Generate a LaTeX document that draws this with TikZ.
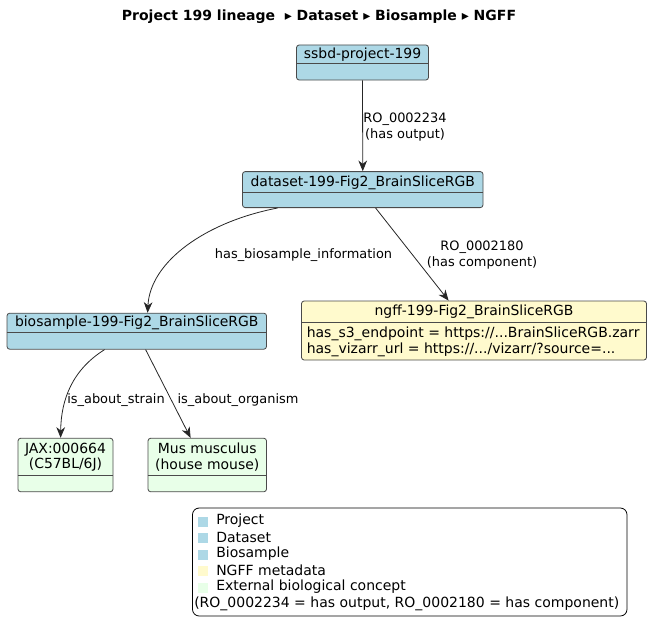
\documentclass[tikz,border=0pt]{standalone}
\usepackage{fontspec}
\setmainfont{DejaVu Sans}
\usetikzlibrary{arrows.meta,calc}
\definecolor{cblue}{HTML}{ADD8E6}
\definecolor{cyel}{HTML}{FFFACD}
\definecolor{cgrn}{HTML}{E8FFE8}
\definecolor{cbord}{HTML}{4A4A4A}
\begin{document}
\begin{tikzpicture}[x=0.75pt,y=-0.75pt,
 cls/.style={draw=cbord, line width=0.6pt, rounded corners=2pt, inner sep=0pt},
 divl/.style={draw=cbord, line width=0.6pt},
 hdr/.style={font=\fontsize{10.45}{11.25}\selectfont, align=center, inner sep=0pt},
 body/.style={font=\fontsize{10.5}{12.75}\selectfont, align=left, inner sep=0pt, anchor=west},
 elab/.style={font=\fontsize{9.7}{11.8}\selectfont, align=center, inner sep=0pt},
 arr/.style={-{Stealth[length=8pt,width=6.5pt,inset=2.5pt]}, line width=0.6pt, draw=black!85},
 sw/.style={minimum size=7.5pt, inner sep=0pt, draw=none}
]
\useasboundingbox (0,0) rectangle (652,635);
\node[font=\bfseries\fontsize{10.5}{12}\selectfont, inner sep=0pt] (title) at (319,17) {Project 199 lineage~ ▸ Dataset ▸ Biosample ▸ NGFF};

% project
\node[cls, fill=cblue, minimum width=132*0.75pt, minimum height=35*0.75pt] (proj) at (362.5,62.5) {};
\draw[divl] ($(proj.north west)+(0,19.3)$) -- ($(proj.north east)+(0,19.3)$);
\node[hdr] (projt) at (362.5,54.6) {ssbd-project-199};

% dataset
\node[cls, fill=cblue, minimum width=240.5*0.75pt, minimum height=36*0.75pt] (ds) at (362.75,189.6) {};
\draw[divl] ($(ds.north west)+(0,21.6)$) -- ($(ds.north east)+(0,21.6)$);
\node[hdr] (dst) at (362.75,182.5) {dataset-199-Fig2\_BrainSliceRGB};

% biosample
\node[cls, fill=cblue, minimum width=259.5*0.75pt, minimum height=36*0.75pt] (bio) at (136.75,331.2) {};
\draw[divl] ($(bio.north west)+(0,20)$) -- ($(bio.north east)+(0,20)$);
\node[hdr] (biot) at (136.75,323.3) {biosample-199-Fig2\_BrainSliceRGB};

% ngff
\node[cls, fill=cyel, minimum width=345*0.75pt, minimum height=59*0.75pt] (ngff) at (474,330.5) {};
\draw[divl] ($(ngff.north west)+(0,21.3)$) -- ($(ngff.north east)+(0,21.3)$);
\node[hdr] (ngfft) at (474,311.7) {ngff-199-Fig2\_BrainSliceRGB};
\node[body] (ngffb1) at (306.5,333.5) {has\_s3\_endpoint = https://...BrainSliceRGB.zarr};
\node[body] (ngffb2) at (306.5,350) {has\_vizarr\_url = https://.../vizarr/?source=...};

% jax
\node[cls, fill=cgrn, minimum width=95*0.75pt, minimum height=53.5*0.75pt] (jax) at (65.5,465) {};
\draw[divl] ($(jax.north west)+(0,37.4)$) -- ($(jax.north east)+(0,37.4)$);
\node[hdr, font=\fontsize{10.45}{11.6}\selectfont] (jaxt) at (65.5,457.3) {JAX:000664\\(C57BL/6J)};

% mus
\node[cls, fill=cgrn, minimum width=118.5*0.75pt, minimum height=53.5*0.75pt] (mus) at (207.25,465) {};
\draw[divl] ($(mus.north west)+(0,37.4)$) -- ($(mus.north east)+(0,37.4)$);
\node[hdr, font=\fontsize{10.45}{11.6}\selectfont] (must) at (207.25,457.3) {Mus musculus\\(house mouse)};

% edges
\draw[arr] (proj.south) -- (ds.north);
\node[elab] (e1) at (405,127.3) {RO\_0002234\\(has output)};

\draw[arr] ($(ds.south west)+(35.5,0)$) .. controls (205,222) and (150,262) .. ($(bio.north west)+(141,0)$);
\node[elab] (e2) at (303.5,255) {has\_biosample\_information};

\draw[arr] ($(ds.south west)+(133.5,0)$) -- ($(ngff.north west)+(147.5,0)$);
\node[elab] (e3) at (482,255) {RO\_0002180\\(has component)};

\draw[arr] ($(bio.south west)+(98,0)$) .. controls (72,370) and (61,400) .. ($(jax.north west)+(43,0)$);
\node[elab] (e4) at (116,400) {is\_about\_strain};

\draw[arr] ($(bio.south west)+(139,0)$) -- ($(mus.north west)+(43,0)$);
\node[elab] (e5) at (238,400) {is\_about\_organism};

% legend
\node[draw=black, line width=0.6pt, rounded corners=5pt, minimum width=434.5*0.75pt, minimum height=108*0.75pt, inner sep=0pt] (leg) at (409.75,562) {};
\node[sw, fill=cblue] (sw1) at (203,521.5) {};
\node[sw, fill=cblue] (sw2) at (203,538) {};
\node[sw, fill=cblue] (sw3) at (203,554.5) {};
\node[sw, fill=cyel] (sw4) at (203,571) {};
\node[sw, fill=cgrn] (sw5) at (203,587.5) {};
\node[body] (l1) at (216,521) {Project};
\node[body] (l2) at (216,537.5) {Dataset};
\node[body] (l3) at (216,554) {Biosample};
\node[body] (l4) at (216,570.5) {NGFF metadata};
\node[body] (l5) at (216,587) {External biological concept};
\node[body] (l6) at (194,603.5) {(RO\_0002234 = has output, RO\_0002180 = has component)};
\end{tikzpicture}
\end{document}
